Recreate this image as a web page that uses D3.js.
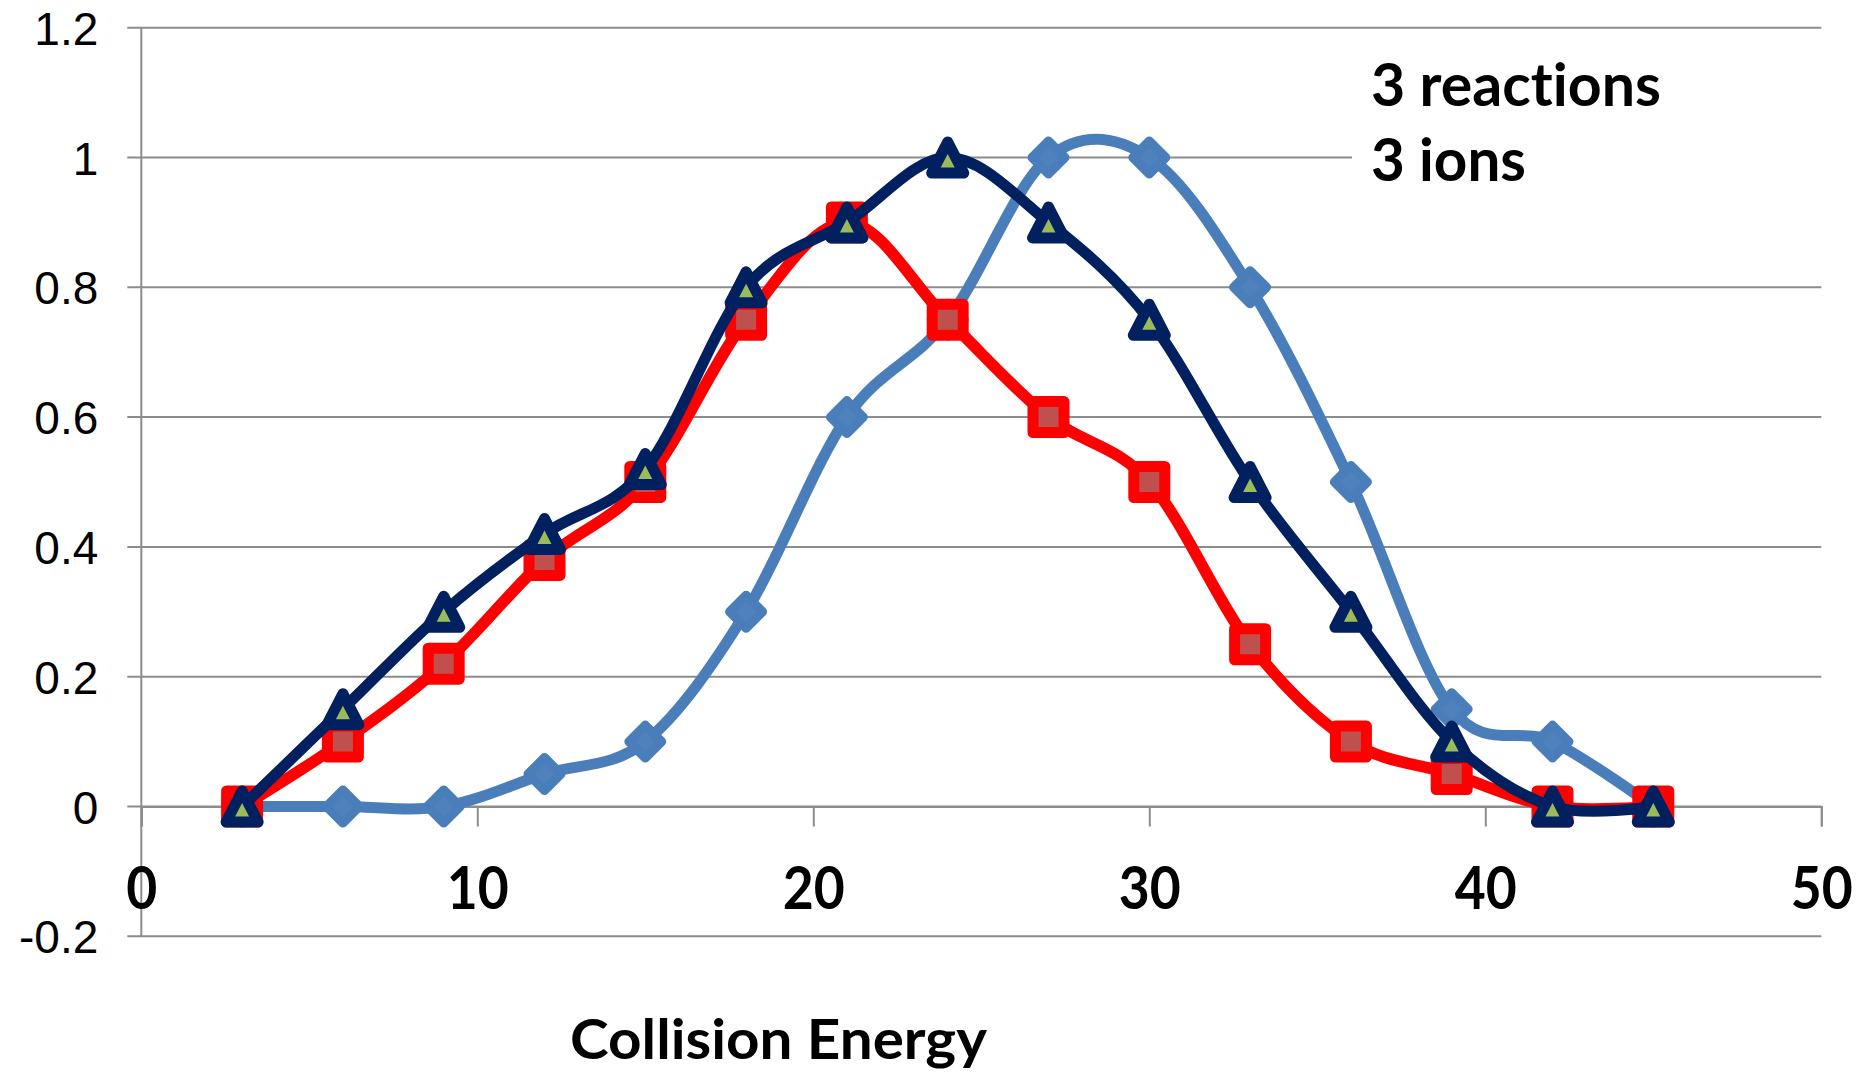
<!DOCTYPE html>
<html>
<head>
<meta charset="utf-8">
<script src="https://cdn.jsdelivr.net/npm/d3@7"></script>
<style>
  html, body { margin: 0; padding: 0; background: #ffffff; }
  svg { display: block; }
  text { font-variant-ligatures: none; font-feature-settings: "liga" 0, "clig" 0; }
</style>
</head>
<body>
<svg id="chart" width="1865" height="1072"></svg>
<script>
// Collision energy values (x)
const energies = [3, 6, 9, 12, 15, 18, 21, 24, 27, 30, 33, 36, 39, 42, 45];

// Relative response for each ion
const ionDiamond  = [0, 0, 0, 0.05, 0.1, 0.3, 0.6, 0.75, 1.0, 1.0, 0.8, 0.5, 0.15, 0.1, 0];
const ionSquare   = [0, 0.1, 0.22, 0.38, 0.5, 0.75, 0.9, 0.75, 0.6, 0.5, 0.25, 0.1, 0.05, 0, 0];
const ionTriangle = [0, 0.15, 0.3, 0.42, 0.52, 0.8, 0.9, 1.0, 0.9, 0.75, 0.5, 0.3, 0.1, 0, 0];

// Axis ticks and labels
const xTicks = [0, 10, 20, 30, 40, 50];
const xTickLabels = ["0", "10", "20", "30", "40", "50"];
const yTicks = [-0.2, 0, 0.2, 0.4, 0.6, 0.8, 1.0, 1.2];
const yTickLabels = ["-0.2", "0", "0.2", "0.4", "0.6", "0.8", "1", "1.2"];

const xTitle = "Collision Energy";
const noteLines = ["3 reactions", "3 ions"];

const svg = d3.select("#chart");
svg.append("rect").attr("width", 1865).attr("height", 1072).attr("fill", "#ffffff");

const x = d3.scaleLinear().domain([0, 50]).range([141.3, 1821.3]);
const y = d3.scaleLinear().domain([-0.2, 1.2]).range([936.3, 27.7]);

const gridColor = "#8c8c8c";
const boldFont = "Lato, 'Open Sans', sans-serif";

// Horizontal gridlines (with the short left tick built in)
svg.append("g")
  .selectAll("line")
  .data(yTicks)
  .join("line")
  .attr("x1", x(0) - 14)
  .attr("x2", x(50))
  .attr("y1", d => y(d))
  .attr("y2", d => y(d))
  .attr("stroke", gridColor)
  .attr("stroke-width", 2);

// Vertical axis with labels
const yAxis = d3.axisLeft(y)
  .tickValues(yTicks)
  .tickSize(0)
  .tickPadding(43)
  .tickFormat((d, i) => yTickLabels[i]);

const gy = svg.append("g")
  .attr("transform", `translate(${x(0)},0)`)
  .call(yAxis);
gy.select(".domain")
  .attr("stroke", gridColor)
  .attr("stroke-width", 2)
  .attr("d", `M0,${y(1.2)}V${y(-0.2)}`);
gy.selectAll("text")
  .attr("font-family", "'Liberation Sans', Arial, sans-serif")
  .attr("font-size", 46)
  .attr("fill", "#000000")
  .attr("dy", "0.36em");

// Horizontal axis through zero
const xAxis = d3.axisBottom(x)
  .tickValues(xTicks)
  .tickSize(20)
  .tickFormat((d, i) => xTickLabels[i]);

const gx = svg.append("g")
  .attr("transform", `translate(0,${y(0)})`)
  .call(xAxis);
gx.select(".domain").attr("stroke", gridColor).attr("stroke-width", 2);
gx.selectAll(".tick line").attr("stroke", gridColor).attr("stroke-width", 2);
gx.selectAll("text")
  .attr("y", 102.5)
  .attr("dy", null)
  .attr("font-family", boldFont)
  .attr("font-weight", "bold")
  .attr("font-size", 60)
  .attr("fill", "#000000")
  .attr("textLength", (d, i) => xTickLabels[i].length * 31)
  .attr("lengthAdjust", "spacingAndGlyphs");

// Panel behind the annotation
svg.append("rect")
  .attr("x", 1352).attr("y", 42)
  .attr("width", 513).attr("height", 150)
  .attr("fill", "#ffffff");

// Series
const line = d3.line()
  .x((d, i) => x(energies[i]))
  .y(d => y(d))
  .curve(d3.curveCardinal.tension(0));

const diamondPath = "M0,-16.5L16.5,0L0,16.5L-16.5,0Z";
const squarePath = "M-15.5,-15.5H15.5V15.5H-15.5Z";
const trianglePath = "M0,-15.5L16,15.5L-16,15.5Z";

const series = [
  { values: ionDiamond, lineColor: "#4a7ebb", lw: 11, marker: diamondPath, fill: "#4f81bd", stroke: "#4a7ebb", mw: 9 },
  { values: ionSquare, lineColor: "#ff0000", lw: 11.5, marker: squarePath, fill: "#c0504d", stroke: "#ff0000", mw: 11 },
  { values: ionTriangle, lineColor: "#002060", lw: 11, marker: trianglePath, fill: "#9bbb59", stroke: "#002060", mw: 11 }
];

series.forEach(s => {
  const g = svg.append("g");
  g.append("path")
    .attr("d", line(s.values))
    .attr("fill", "none")
    .attr("stroke", s.lineColor)
    .attr("stroke-width", s.lw)
    .attr("stroke-linejoin", "round")
    .attr("stroke-linecap", "round");
  g.selectAll("path.marker")
    .data(s.values)
    .join("path")
    .attr("class", "marker")
    .attr("transform", (d, i) => `translate(${x(energies[i])},${y(d)})`)
    .attr("d", s.marker)
    .attr("fill", s.fill)
    .attr("stroke", s.stroke)
    .attr("stroke-width", s.mw)
    .attr("stroke-linejoin", "round");
});

// Axis title
svg.append("text")
  .attr("x", 570).attr("y", 1059)
  .attr("font-family", boldFont)
  .attr("font-weight", "bold")
  .attr("font-size", 56)
  .attr("fill", "#000000")
  .attr("textLength", 417)
  .attr("lengthAdjust", "spacingAndGlyphs")
  .text(xTitle);

// Annotation
const noteWidths = [290, 155];
svg.append("g")
  .selectAll("text")
  .data(noteLines)
  .join("text")
  .attr("x", 1371)
  .attr("y", (d, i) => 106 + i * 75)
  .attr("font-family", boldFont)
  .attr("font-weight", "bold")
  .attr("font-size", 59)
  .attr("fill", "#000000")
  .attr("textLength", (d, i) => noteWidths[i])
  .attr("lengthAdjust", "spacingAndGlyphs")
  .text(d => d);
</script>
</body>
</html>
